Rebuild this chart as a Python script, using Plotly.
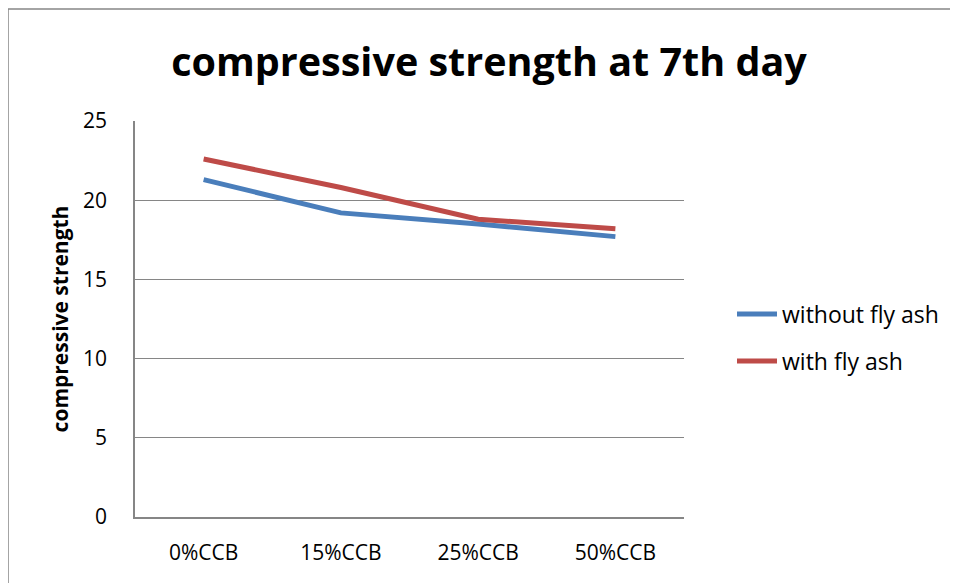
import plotly.graph_objects as go

categories = ["0%CCB", "15%CCB", "25%CCB", "50%CCB"]
without_fly_ash = [21.3, 19.2, 18.5, 17.7]
with_fly_ash = [22.6, 20.8, 18.8, 18.2]
y_ticks = [0, 5, 10, 15, 20, 25]

fig = go.Figure()
fig.add_trace(go.Scatter(x=categories, y=without_fly_ash, mode="lines", name="without fly ash",
                         legendgroup="a", line=dict(color="#4A7EBB", width=5)))
fig.add_trace(go.Scatter(x=categories, y=with_fly_ash, mode="lines", name="with fly ash",
                         legendgroup="b", line=dict(color="#BE4B48", width=5)))

PW, PH = 549, 396
fig.update_layout(
    width=950, height=575,
    margin=dict(l=127, r=274, t=113, b=66),
    paper_bgcolor="white", plot_bgcolor="white",
    font=dict(family="Open Sans", color="black"),
    title=dict(text="<b>compressive strength at 7th day</b>", x=(489 - 8) / 950, xanchor="center",
               y=1 - 54 / 575, yanchor="middle", xref="container",
               font=dict(size=39.5, family="Open Sans", color="black")),
    xaxis=dict(type="category", range=[-0.5, 3.5], showgrid=False, showline=True,
               linecolor="#868686", linewidth=1.5, ticks="", tickfont=dict(size=21),
               ticklabelstandoff=16),
    yaxis=dict(range=[0, 25], tickvals=y_ticks, showgrid=True, gridcolor="#868686", gridwidth=1.2,
               showline=True, linecolor="#868686", linewidth=1.5, ticks="",
               tickfont=dict(size=21), zeroline=False, ticklabelstandoff=22,
               title=dict(text="<b>compressive strength</b>", font=dict(size=21), standoff=9)),
    legend=dict(x=1 + 48 / PW, xanchor="left", y=0.453, yanchor="middle",
                font=dict(size=23), tracegroupgap=14, itemwidth=40),
    showlegend=True,
)
fig.add_shape(type="rect", xref="paper", yref="paper",
              x0=-127 / PW, x1=1 + 400 / PW, y0=-200 / PH, y1=1 + 112 / PH,
              line=dict(color="#868686", width=1.5), fillcolor="rgba(0,0,0,0)", layer="below")

fig.write_html("out.html")
